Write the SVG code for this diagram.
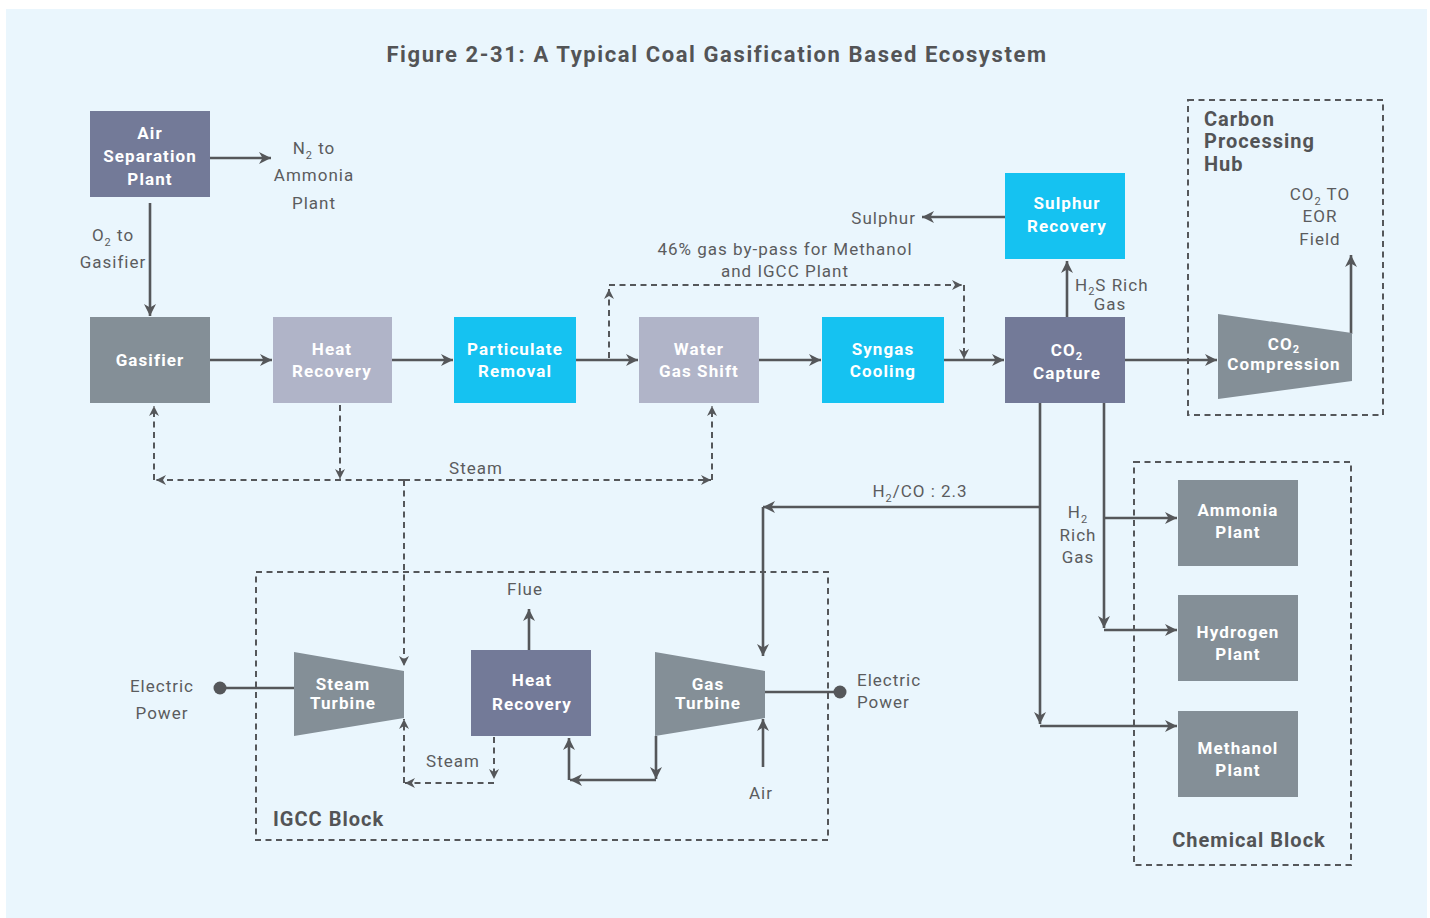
<svg xmlns="http://www.w3.org/2000/svg" width="1430" height="918" viewBox="0 0 1430 918">
<defs>
<style>
.bg{fill:#eaf6fd}
.slate{fill:#737a98}
.gray{fill:#848f97}
.lav{fill:#b0b4c8}
.cyan{fill:#15c2f1}
.nl{font-family:Roboto,"Liberation Sans",sans-serif;font-weight:bold;font-size:17px;fill:#ffffff;text-anchor:middle;letter-spacing:1.1px}
.lb{font-family:Roboto,"Liberation Sans",sans-serif;font-size:17px;fill:#5b5c5e;letter-spacing:1px}
.m{text-anchor:middle}
.s{text-anchor:start}
.e{text-anchor:end}
.sub{font-size:11px}
.hd{font-family:Roboto,"Liberation Sans",sans-serif;font-weight:bold;font-size:20px;fill:#535456;letter-spacing:1px}
.ln{fill:none;stroke:#55575a;stroke-width:2.6}
.ds{fill:none;stroke:#55575a;stroke-width:2;stroke-dasharray:6,4.5}
.box{fill:none;stroke:#55575a;stroke-width:2;stroke-dasharray:6,4.5}
</style>
<marker id="a" markerUnits="userSpaceOnUse" markerWidth="14" markerHeight="14" refX="12" refY="6" orient="auto">
<path d="M0,0 L12,6 L0,12 L3.5,6 z" fill="#55575a"/>
</marker>
<marker id="d" markerUnits="userSpaceOnUse" markerWidth="12" markerHeight="12" refX="10" refY="5" orient="auto">
<path d="M0,0 L10,5 L0,10 L3,5 z" fill="#55575a"/>
</marker>
</defs>
<rect x="0" y="0" width="1430" height="918" fill="#ffffff"/>
<rect class="bg" x="6" y="9" width="1421" height="909"/>
<text x="717" y="62" text-anchor="middle" style="font-family:Roboto,'Liberation Sans',sans-serif;font-weight:bold;font-size:22px;fill:#535456;letter-spacing:1.6px">Figure 2-31: A Typical Coal Gasification Based Ecosystem</text>

<g id="carbon-hub">
<rect class="box" x="1188" y="100" width="195" height="315"/>
<text class="hd" x="1204" y="126">Carbon</text>
<text class="hd" x="1204" y="148">Processing</text>
<text class="hd" x="1204" y="171">Hub</text>
</g>
<g id="chemical-block">
<rect class="box" x="1134" y="462" width="217" height="403"/>
<text class="hd m" x="1249" y="847">Chemical Block</text>
</g>
<g id="igcc-block">
<rect class="box" x="256" y="572" width="572" height="268"/>
<text class="hd" x="273" y="826">IGCC Block</text>
</g>

<g id="connectors">
<path class="ln" d="M210,158 L271,158" marker-end="url(#a)"/>
<path class="ln" d="M150,203 L150,316" marker-end="url(#a)"/>
<path class="ln" d="M210,360 L272,360" marker-end="url(#a)"/>
<path class="ln" d="M392,360 L453,360" marker-end="url(#a)"/>
<path class="ln" d="M576,360 L638,360" marker-end="url(#a)"/>
<path class="ln" d="M759,360 L821,360" marker-end="url(#a)"/>
<path class="ln" d="M944,360 L1004,360" marker-end="url(#a)"/>
<path class="ln" d="M1125,360 L1217,360" marker-end="url(#a)"/>
<path class="ds" d="M609,358 L609,289" marker-end="url(#d)"/>
<path class="ds" d="M609,285 L962,285" marker-end="url(#d)"/>
<path class="ds" d="M964,285 L964,359" marker-end="url(#d)"/>
<path class="ln" d="M1067,317 L1067,261" marker-end="url(#a)"/>
<path class="ln" d="M1005,217 L922,217" marker-end="url(#a)"/>
<path class="ln" d="M1351,334 L1351,255" marker-end="url(#a)"/>
<path class="ln" d="M1104,403 L1104,628" marker-end="url(#a)"/>
<path class="ln" d="M1104,518 L1177,518" marker-end="url(#a)"/>
<path class="ln" d="M1104,630 L1177,630" marker-end="url(#a)"/>
<path class="ln" d="M1040,403 L1040,724" marker-end="url(#a)"/>
<path class="ln" d="M1040,726 L1177,726" marker-end="url(#a)"/>
<path class="ln" d="M1040,507 L763,507" marker-end="url(#a)"/>
<path class="ln" d="M763,507 L763,656" marker-end="url(#a)"/>
<path class="ds" d="M340,405 L340,479" marker-end="url(#d)"/>
<path class="ds" d="M404,480 L156,480" marker-end="url(#d)"/>
<path class="ds" d="M404,480 L711,480" marker-end="url(#d)"/>
<path class="ds" d="M154,480 L154,406" marker-end="url(#d)"/>
<path class="ds" d="M712,480 L712,406" marker-end="url(#d)"/>
<path class="ds" d="M404,480 L404,666" marker-end="url(#d)"/>
<path class="ln" d="M529,650 L529,609" marker-end="url(#a)"/>
<path class="ds" d="M494,737 L494,779" marker-end="url(#d)"/>
<path class="ds" d="M494,783 L405,783" marker-end="url(#d)"/>
<path class="ds" d="M404,783 L404,719" marker-end="url(#d)"/>
<path class="ln" d="M656,736 L656,779" marker-end="url(#a)"/>
<path class="ln" d="M656,780 L570,780" marker-end="url(#a)"/>
<path class="ln" d="M569,780 L569,738" marker-end="url(#a)"/>
<path class="ln" d="M763,767 L763,719" marker-end="url(#a)"/>
<path class="ln" d="M220,688 L294,688"/>
<circle cx="220" cy="688" r="6.5" fill="#55575a"/>
<path class="ln" d="M765,692 L840,692"/>
<circle cx="840" cy="692" r="6.5" fill="#55575a"/>
</g>

<g id="labels">
<text class="lb m" x="314" y="154">N<tspan class="sub" dy="5">2</tspan><tspan dy="-5"> to</tspan></text>
<text class="lb m" x="314" y="181">Ammonia</text>
<text class="lb m" x="314" y="209">Plant</text>
<text class="lb m" x="113" y="241">O<tspan class="sub" dy="5">2</tspan><tspan dy="-5"> to</tspan></text>
<text class="lb m" x="113" y="268">Gasifier</text>
<text class="lb e" x="916" y="224">Sulphur</text>
<text class="lb m" x="785" y="255">46% gas by-pass for Methanol</text>
<text class="lb m" x="785" y="277">and IGCC Plant</text>
<text class="lb s" x="1075" y="291">H<tspan class="sub" dy="4">2</tspan><tspan dy="-4">S Rich</tspan></text>
<text class="lb m" x="1110" y="310">Gas</text>
<text class="lb m" x="1320" y="200">CO<tspan class="sub" dy="5">2</tspan><tspan dy="-5"> TO</tspan></text>
<text class="lb m" x="1320" y="222">EOR</text>
<text class="lb m" x="1320" y="245">Field</text>
<text class="lb m" x="476" y="474">Steam</text>
<text class="lb m" x="920" y="497">H<tspan class="sub" dy="5">2</tspan><tspan dy="-5">/CO : 2.3</tspan></text>
<text class="lb m" x="1078" y="518">H<tspan class="sub" dy="5">2</tspan></text>
<text class="lb m" x="1078" y="541">Rich</text>
<text class="lb m" x="1078" y="563">Gas</text>
<text class="lb m" x="525" y="595">Flue</text>
<text class="lb m" x="162" y="692">Electric</text>
<text class="lb m" x="162" y="719">Power</text>
<text class="lb s" x="857" y="686">Electric</text>
<text class="lb s" x="857" y="708">Power</text>
<text class="lb m" x="453" y="767">Steam</text>
<text class="lb m" x="761" y="799">Air</text>
</g>

<g id="air-separation-plant">
<rect class="slate" x="90" y="111" width="120" height="86"/>
<text class="nl" x="150" y="139">Air</text>
<text class="nl" x="150" y="162">Separation</text>
<text class="nl" x="150" y="185">Plant</text>
</g>
<g id="gasifier">
<rect class="gray" x="90" y="317" width="120" height="86"/>
<text class="nl" x="150" y="366">Gasifier</text>
</g>
<g id="heat-recovery">
<rect class="lav" x="273" y="317" width="119" height="86"/>
<text class="nl" x="332" y="355">Heat</text>
<text class="nl" x="332" y="377">Recovery</text>
</g>
<g id="particulate-removal">
<rect class="cyan" x="454" y="317" width="122" height="86"/>
<text class="nl" x="515" y="355">Particulate</text>
<text class="nl" x="515" y="377">Removal</text>
</g>
<g id="water-gas-shift">
<rect class="lav" x="639" y="317" width="120" height="86"/>
<text class="nl" x="699" y="355">Water</text>
<text class="nl" x="699" y="377">Gas Shift</text>
</g>
<g id="syngas-cooling">
<rect class="cyan" x="822" y="317" width="122" height="86"/>
<text class="nl" x="883" y="355">Syngas</text>
<text class="nl" x="883" y="377">Cooling</text>
</g>
<g id="co2-capture">
<rect class="slate" x="1005" y="317" width="120" height="86"/>
<text class="nl" x="1067" y="356">CO<tspan class="sub" dy="4">2</tspan></text>
<text class="nl" x="1067" y="379">Capture</text>
</g>
<g id="sulphur-recovery">
<rect class="cyan" x="1005" y="173" width="120" height="86"/>
<text class="nl" x="1067" y="209">Sulphur</text>
<text class="nl" x="1067" y="232">Recovery</text>
</g>
<g id="co2-compression">
<polygon class="gray" points="1218,314 1352,333 1352,381 1218,399"/>
<text class="nl" x="1284" y="350">CO<tspan class="sub" dy="3">2</tspan></text>
<text class="nl" x="1284" y="370">Compression</text>
</g>
<g id="ammonia-plant">
<rect class="gray" x="1178" y="480" width="120" height="86"/>
<text class="nl" x="1238" y="516">Ammonia</text>
<text class="nl" x="1238" y="538">Plant</text>
</g>
<g id="hydrogen-plant">
<rect class="gray" x="1178" y="595" width="120" height="86"/>
<text class="nl" x="1238" y="638">Hydrogen</text>
<text class="nl" x="1238" y="660">Plant</text>
</g>
<g id="methanol-plant">
<rect class="gray" x="1178" y="711" width="120" height="86"/>
<text class="nl" x="1238" y="754">Methanol</text>
<text class="nl" x="1238" y="776">Plant</text>
</g>
<g id="steam-turbine">
<polygon class="gray" points="294,652 404,671 404,718 294,736"/>
<text class="nl" x="343" y="690">Steam</text>
<text class="nl" x="343" y="709">Turbine</text>
</g>
<g id="igcc-heat-recovery">
<rect class="slate" x="471" y="650" width="120" height="86"/>
<text class="nl" x="532" y="686">Heat</text>
<text class="nl" x="532" y="710">Recovery</text>
</g>
<g id="gas-turbine">
<polygon class="gray" points="655,652 765,671 765,718 655,736"/>
<text class="nl" x="708" y="690">Gas</text>
<text class="nl" x="708" y="709">Turbine</text>
</g>
</svg>
